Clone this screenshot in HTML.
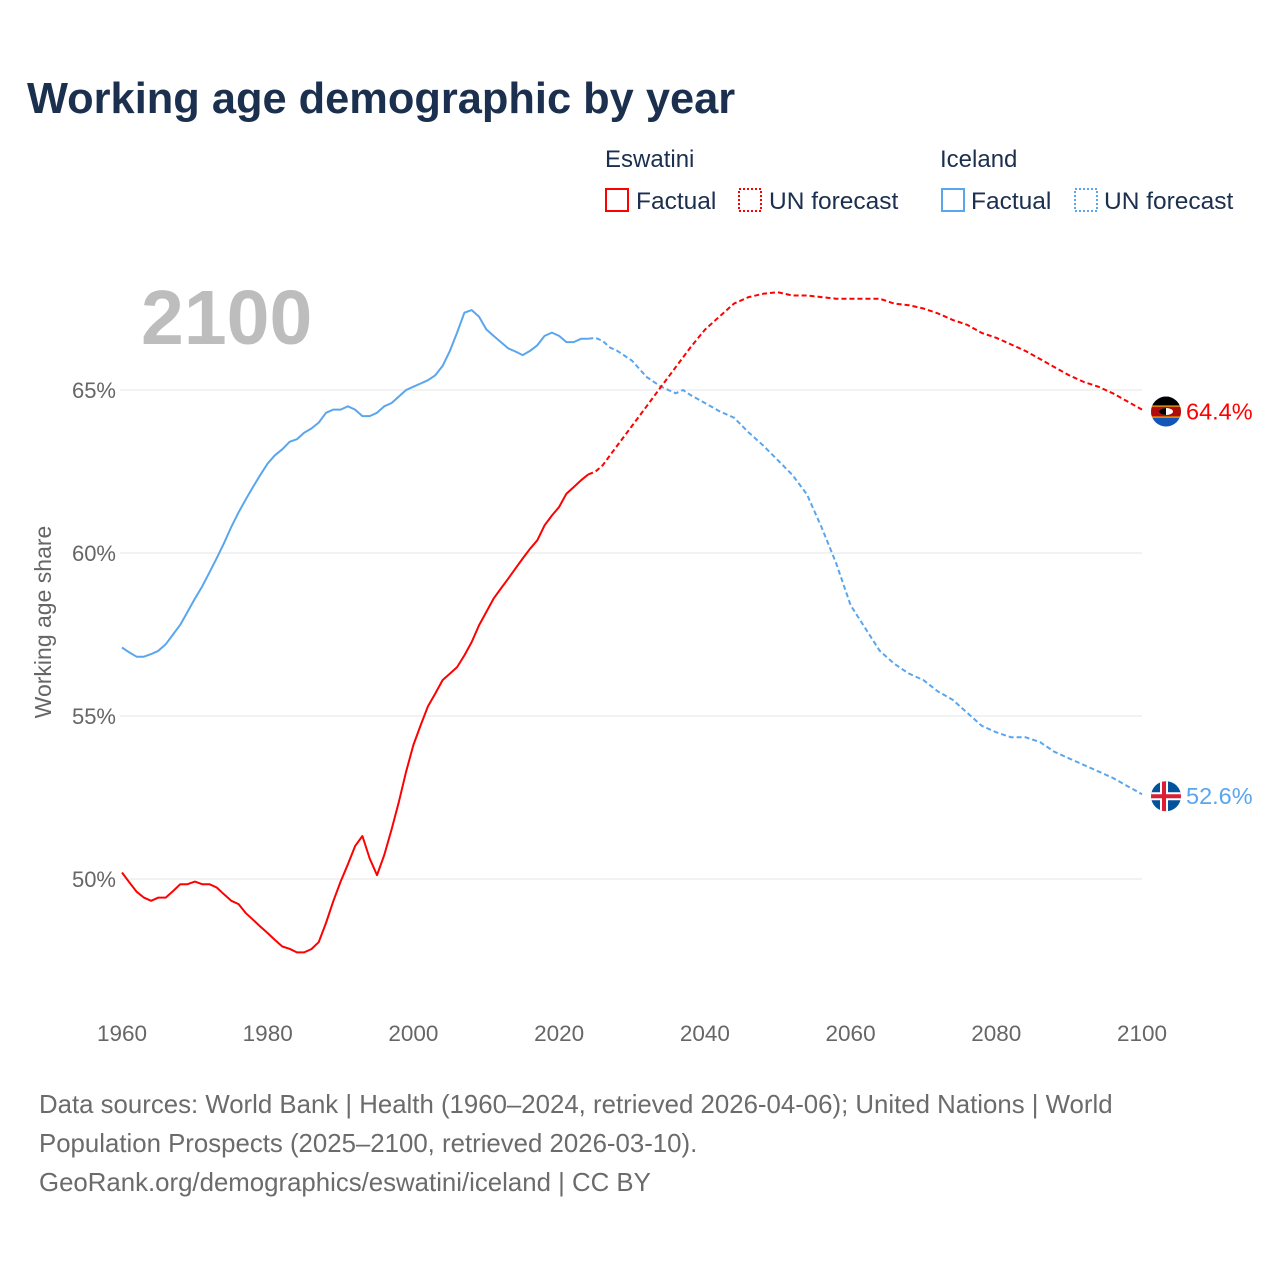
<!DOCTYPE html>
<html><head><meta charset="utf-8">
<style>
body{margin:0;background:#fff;font-family:"Liberation Sans",sans-serif;}
#wrap{position:relative;width:1280px;height:1280px;overflow:hidden;}
svg text{font-family:"Liberation Sans",sans-serif;}
</style></head>
<body>
<div id="wrap">
<svg id="chart" width="1280" height="1280">
  <text x="27" y="113" font-size="43.4" font-weight="bold" fill="#1b2f4e">Working age demographic by year</text>
  <g>
    <text x="605" y="167" font-size="24" fill="#1b2f4e">Eswatini</text>
    <rect x="606" y="189" width="22" height="22" fill="none" stroke="#ff0000" stroke-width="2"/>
    <text x="636" y="209" font-size="24.5" fill="#1b2f4e">Factual</text>
    <rect x="739" y="189" width="22" height="22" fill="none" stroke="#ff0000" stroke-width="2" stroke-dasharray="2,2"/>
    <text x="769" y="209" font-size="24.5" fill="#1b2f4e">UN forecast</text>
    <text x="940" y="167" font-size="24" fill="#1b2f4e">Iceland</text>
    <rect x="942" y="189" width="22" height="22" fill="none" stroke="#5aa6ee" stroke-width="2"/>
    <text x="971" y="209" font-size="24.5" fill="#1b2f4e">Factual</text>
    <rect x="1075" y="189" width="22" height="22" fill="none" stroke="#5aa6ee" stroke-width="2" stroke-dasharray="2,2"/>
    <text x="1104" y="209" font-size="24.5" fill="#1b2f4e">UN forecast</text>
  </g>
  <text x="141" y="344" font-size="77" font-weight="bold" fill="#bdbdbd">2100</text>
  <text transform="translate(51,622) rotate(-90)" text-anchor="middle" font-size="23" fill="#666">Working age share</text>
  <g id="grid"></g>
  <g id="lines"></g>
  <g id="ends"></g>
  <g font-size="25.8" fill="#6b6b6b">
    <text x="39" y="1113">Data sources: World Bank | Health (1960–2024, retrieved 2026-04-06); United Nations | World</text>
    <text x="39" y="1152">Population Prospects (2025–2100, retrieved 2026-03-10).</text>
    <text x="39" y="1191">GeoRank.org/demographics/eswatini/iceland | CC BY</text>
  </g>
</svg>
</div>
<script>
const yTicks=[50,55,60,65];
const xTicks=[1960,1980,2000,2020,2040,2060,2080,2100];
const factYears=[];for(let y=1960;y<=2024;y++)factYears.push(y);
const eswFact=[50.2,49.9,49.61,49.43,49.33,49.43,49.43,49.63,49.84,49.84,49.92,49.84,49.84,49.74,49.53,49.33,49.23,48.95,48.75,48.54,48.34,48.13,47.93,47.86,47.75,47.75,47.85,48.06,48.65,49.32,49.92,50.45,51.01,51.32,50.63,50.12,50.74,51.52,52.37,53.29,54.11,54.72,55.3,55.69,56.1,56.3,56.5,56.86,57.27,57.78,58.19,58.6,58.91,59.21,59.52,59.83,60.13,60.39,60.85,61.15,61.41,61.82,62.02,62.23,62.41];
const iceFact=[57.1,56.95,56.82,56.82,56.9,57.0,57.2,57.5,57.8,58.2,58.6,58.97,59.4,59.84,60.3,60.8,61.25,61.65,62.03,62.4,62.75,63.0,63.18,63.41,63.49,63.69,63.82,64.0,64.3,64.4,64.4,64.5,64.4,64.2,64.2,64.3,64.5,64.6,64.8,65.0,65.1,65.2,65.3,65.45,65.74,66.2,66.76,67.37,67.45,67.25,66.86,66.66,66.47,66.28,66.18,66.07,66.2,66.37,66.66,66.76,66.66,66.47,66.47,66.57,66.57];
const fcYears=[2024,2025,2026,2027,2028,2030,2032,2034,2036,2037,2038,2040,2042,2044,2046,2048,2050,2052,2054,2056,2058,2060,2062,2064,2066,2068,2070,2072,2074,2076,2078,2080,2082,2084,2086,2088,2090,2092,2094,2096,2098,2100];
const eswFc=[62.41,62.5,62.7,63.0,63.3,63.9,64.5,65.1,65.7,66.0,66.3,66.85,67.25,67.65,67.85,67.95,68.0,67.9,67.9,67.85,67.8,67.8,67.8,67.8,67.65,67.6,67.5,67.35,67.15,67.0,66.75,66.6,66.4,66.2,65.95,65.7,65.45,65.25,65.1,64.9,64.65,64.4];
const iceFc=[66.57,66.6,66.5,66.3,66.2,65.9,65.4,65.1,64.9,65.0,64.85,64.6,64.35,64.15,63.7,63.3,62.85,62.4,61.8,60.8,59.7,58.4,57.7,57.0,56.6,56.3,56.1,55.75,55.5,55.1,54.7,54.5,54.35,54.35,54.2,53.9,53.7,53.5,53.3,53.1,52.85,52.6];
const NS='http://www.w3.org/2000/svg';
const X=y=>122+(y-1960)*(1020/140);
const Y=v=>390+(65-v)*32.6;
function mk(tag,attrs,parent){const e=document.createElementNS(NS,tag);for(const k in attrs)e.setAttribute(k,attrs[k]);parent.appendChild(e);return e;}
const grid=document.getElementById('grid');
yTicks.forEach(t=>{
  const l=mk('line',{x1:120,x2:1142,y1:Y(t),y2:Y(t),stroke:'#e6e6e6','stroke-width':1},grid);
  
  
  const tx=mk('text',{x:116,y:Y(t)+8,'text-anchor':'end','font-size':22,fill:'#666'},grid);
  tx.textContent=t+'%';
  
  
});
xTicks.forEach(t=>{
  const tx=mk('text',{x:X(t),y:1041,'text-anchor':'middle','font-size':22.5,fill:'#666'},grid);
  tx.textContent=t;
  
  
});
const lines=document.getElementById('lines');
function path(xs,vs,color,dash,name){
  const d=xs.map((x,i)=>(i?'L':'M')+X(x).toFixed(1)+','+Y(vs[i]).toFixed(1)).join(' ');
  const p=mk('path',{d:d,fill:'none',stroke:color,'stroke-width':2,'stroke-linejoin':'round'},lines);
  if(dash)p.setAttribute('stroke-dasharray','5,3');
  
  
}
path(factYears,iceFact,'#5aa6ee',false,'iceland-factual-line');
path(fcYears,iceFc,'#5aa6ee',true,'iceland-forecast-line');
path(factYears,eswFact,'#ff0000',false,'eswatini-factual-line');
path(fcYears,eswFc,'#ff0000',true,'eswatini-forecast-line');
const ends=document.getElementById('ends');
function endMarker(v,color,label,name,flag){
  const cy=Y(v)+2,cx=1166;
  const g=mk('g',{},ends);
  
  
  const cp=mk('clipPath',{id:'cp'+name},g);
  mk('circle',{cx:cx,cy:cy,r:15},cp);
  const inner=mk('g',{'clip-path':'url(#cp'+name+')'},g);
  flag(inner,cx,cy);
  const t=mk('text',{x:1186,y:cy+8,'font-size':23.5,fill:color},ends);
  t.textContent=label;
  
  
}
endMarker(eswFc[eswFc.length-1],'#ff0000',eswFc[eswFc.length-1].toFixed(1)+'%','eswatini',(g,cx,cy)=>{
  mk('rect',{x:cx-15,y:cy-15,width:30,height:30,fill:'#1257b8'},g);
  mk('rect',{x:cx-15,y:cy-15,width:30,height:9,fill:'#000'},g);
  mk('rect',{x:cx-15,y:cy-6,width:30,height:12,fill:'#ffd900'},g);
  mk('rect',{x:cx-15,y:cy-5,width:30,height:10,fill:'#b10c0c'},g);
  mk('ellipse',{cx:cx,cy:cy,rx:7,ry:3.5,fill:'#fff'},g);
  mk('path',{d:`M${cx-7},${cy} A7,3.5 0 0 1 ${cx},${cy-3.5} L${cx},${cy+3.5} A7,3.5 0 0 1 ${cx-7},${cy}`,fill:'#000'},g);
});
endMarker(iceFc[iceFc.length-1],'#5aa6ee',iceFc[iceFc.length-1].toFixed(1)+'%','iceland',(g,cx,cy)=>{
  mk('rect',{x:cx-15,y:cy-15,width:30,height:30,fill:'#02529c'},g);
  mk('rect',{x:cx-15,y:cy-4,width:30,height:8,fill:'#fff'},g);
  mk('rect',{x:cx-6,y:cy-15,width:8,height:30,fill:'#fff'},g);
  mk('rect',{x:cx-15,y:cy-2,width:30,height:4,fill:'#dc1e35'},g);
  mk('rect',{x:cx-4,y:cy-15,width:4,height:30,fill:'#dc1e35'},g);
});
</script>
</body></html>
